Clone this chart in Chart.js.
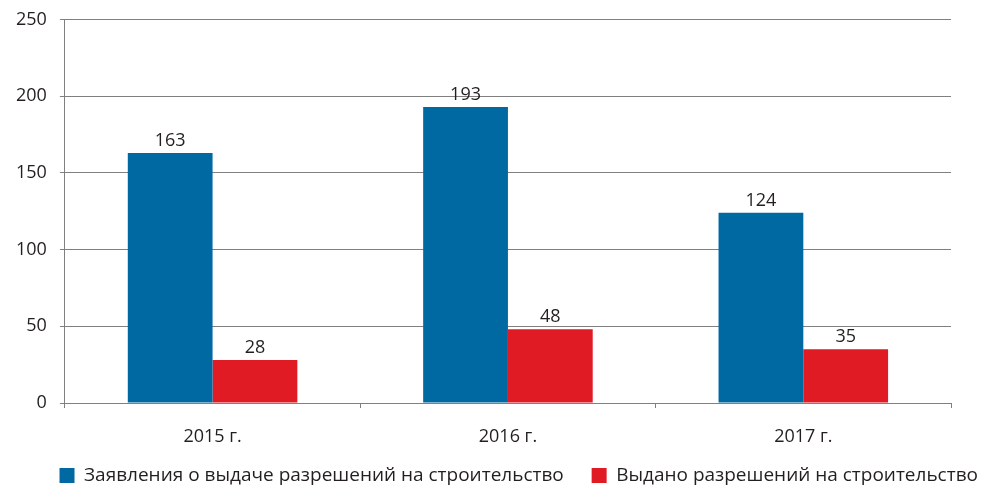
<!DOCTYPE html>
<html>
<head>
<meta charset="utf-8">
<script src="https://cdn.jsdelivr.net/npm/chart.js@4/dist/chart.umd.min.js"></script>
<style>
  html, body { margin: 0; padding: 0; background: #fff; }
  #wrap { width: 981px; height: 488px; position: relative; }
</style>
</head>
<body>
<div id="wrap"><canvas id="c" width="981" height="488"></canvas></div>
<script>
const categories = ['2015 г.', '2016 г.', '2017 г.'];
const applications = [163, 193, 124];
const permits = [28, 48, 35];
const seriesNames = ['Заявления о выдаче разрешений на строительство', 'Выдано разрешений на строительство'];
const yTicks = [0, 50, 100, 150, 200, 250];

const FONT = '"Open Sans", "Noto Sans", sans-serif';
const TEXT = '#231f20';

const valueLabels = {
  id: 'valueLabels',
  afterDatasetsDraw(chart) {
    const ctx = chart.ctx;
    ctx.save();
    ctx.font = '18px ' + FONT;
    ctx.fillStyle = TEXT;
    ctx.textAlign = 'center';
    ctx.textBaseline = 'alphabetic';
    chart.data.datasets.forEach((ds, i) => {
      chart.getDatasetMeta(i).data.forEach((bar, j) => {
        ctx.fillText(String(ds.data[j]), bar.x, bar.y - 7);
      });
    });
    ctx.restore();
  }
};

new Chart(document.getElementById('c'), {
  type: 'bar',
  data: {
    labels: categories,
    datasets: [
      { label: seriesNames[0], data: applications, backgroundColor: '#0169a2' },
      { label: seriesNames[1], data: permits, backgroundColor: '#e01b24' }
    ]
  },
  options: {
    responsive: false,
    animation: false,
    devicePixelRatio: 1,
    layout: { padding: { top: 0, right: -15, left: 3, bottom: 0 } },
    datasets: { bar: { categoryPercentage: 0.574, barPercentage: 1.0 } },
    scales: {
      x: {
        grid: { offset: true, drawOnChartArea: false, tickLength: 5, color: '#808080', lineWidth: 1 },
        border: { color: '#808080', width: 1 },
        ticks: { font: { family: FONT, size: 18 }, color: TEXT, padding: 18 },
        afterFit(scale) { scale.height = 45; }
      },
      y: {
        min: 0, max: 250,
        afterBuildTicks(axis) { axis.ticks = yTicks.map(v => ({ value: v })); },
        grid: { tickLength: 5, color: '#808080', lineWidth: 1 },
        border: { color: '#808080', width: 1 },
        ticks: { font: { family: FONT, size: 18 }, color: TEXT, padding: 13 },
        afterFit(scale) { scale.paddingTop = 19.5; }
      },
      yR: {
        position: 'right',
        min: 0, max: 250,
        grid: { display: false },
        border: { display: false },
        ticks: { display: false },
        afterFit(scale) { scale.width = 45; }
      }
    },
    plugins: {
      legend: {
        position: 'bottom',
        align: 'end',
        maxHeight: 40,
        labels: {
          font: { family: FONT, size: 19 }, color: TEXT, boxWidth: 15, boxHeight: 15, padding: 18,
          generateLabels(chart) {
            const items = Chart.defaults.plugins.legend.labels.generateLabels(chart);
            items.forEach((it, i) => { if (i < items.length - 1) it.text += '  '; });
            return items;
          }
        }
      },
      tooltip: { enabled: false }
    }
  },
  plugins: [valueLabels]
});
</script>
</body>
</html>
